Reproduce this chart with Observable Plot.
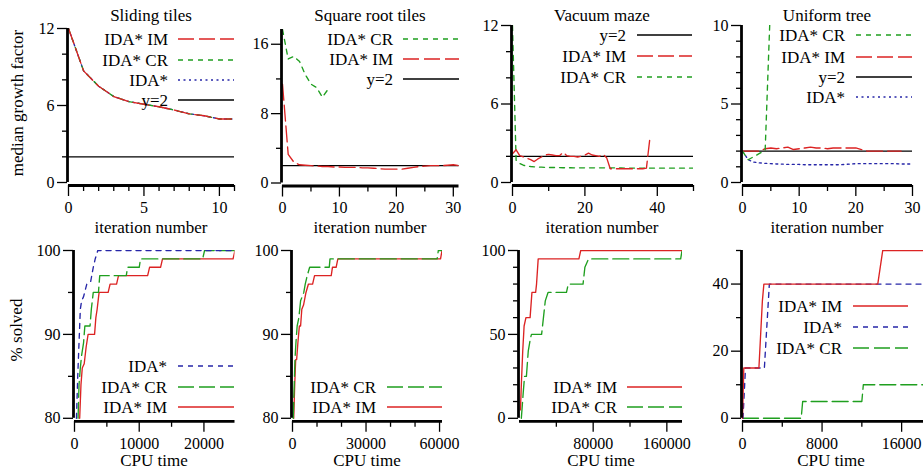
<!DOCTYPE html>
<html><head><meta charset="utf-8">
<script src="https://cdn.jsdelivr.net/npm/d3@7"></script>
<script src="https://cdn.jsdelivr.net/npm/@observablehq/plot@0.6"></script>
<style>
body{margin:0;background:#fff;overflow:hidden}
#c{position:relative;width:923px;height:470px;overflow:hidden;font-family:"Liberation Serif","Times New Roman",serif;color:#000}
.lab{position:absolute;transform:translate(-50%,-50%);white-space:nowrap;font-size:17px;line-height:1}
.rot{transform:translate(-50%,-50%) rotate(-90deg)}
#c svg{position:absolute}
</style></head><body><div id="c"></div>
<script>
// ---------------- DATA ----------------
// Top row: median growth factor per iteration number (x = iteration index)
const slidingIM  = [12, 8.7, 7.5, 6.7, 6.3, 6.1, 5.9, 5.65, 5.35, 5.2, 4.95, 4.95];
const slidingCR  = [12, 8.7, 7.5, 6.7, 6.3, 6.1, 5.9, 5.65, 5.35, 5.2, 4.95, 4.95];
const slidingIDA = [12, 8.7, 7.5, 6.7, 6.3, 6.1, 5.9, 5.65, 5.35, 5.2, 4.95, 4.95];

const sqrtCR = [17.7, 14.3, 14.6, 14.0, 12.5, 11.4, 11.0, 9.9, 10.8];
const sqrtIM = [11.4, 3.3, 2.4, 2.1, 2.05, 2.0, 1.95, 1.9, 1.9, 1.85, 1.85, 1.8, 1.8, 1.8, 1.75, 1.75,
                1.7, 1.65, 1.6, 1.6, 1.6, 1.6, 1.7, 1.8, 1.9, 1.95, 2.0, 2.0, 2.0, 2.05, 2.1, 2.0];

const vacuumIM = [2.2, 2.5, 2.05, 1.95, 1.85, 1.75, 1.6, 1.8, 1.95, 2.1, 2.15, 2.1, 2.05, 2.05, 2.3, 2.05,
                  2.0, 2.0, 1.95, 2.0, 2.1, 2.25, 2.1, 2.05, 2.0, 2.15, 1.9, 1.05, 1.05, 1.05, 1.05, 1.05,
                  1.05, 1.05, 1.05, 1.05, 1.05, 1.1, 3.5];
const vacuumCR = [12, 1.7, 1.45, 1.32, 1.26, 1.22, 1.2, 1.18, 1.17, 1.16, 1.15,
                  1.15, 1.14, 1.14, 1.13, 1.13, 1.13, 1.12, 1.12, 1.12, 1.12,
                  1.12, 1.12, 1.12, 1.12, 1.12, 1.12, 1.12, 1.12, 1.12, 1.12,
                  1.1, 1.1, 1.1, 1.1, 1.1, 1.1, 1.1, 1.1, 1.1, 1.1,
                  1.1, 1.1, 1.1, 1.1, 1.1, 1.1, 1.1, 1.1, 1.1, 1.1];

const uniformCR  = [2.0, 1.45, 1.65, 1.85, 2.05, 12];
const uniformIM  = [2.0, 2.0, 2.0, 2.0, 2.15, 2.2, 2.15, 2.2, 2.25, 2.1, 2.15, 2.2, 2.25, 2.2, 2.2,
                    2.15, 2.2, 2.2, 2.2, 2.2, 2.2, 2.1, 2.0, 2.0, 2.0, 2.0, 2.0, 2.0, 2.0];
const uniformIDA = [2.0, 1.45, 1.3, 1.25, 1.22, 1.2, 1.18, 1.17, 1.15, 1.15, 1.15, 1.13, 1.13, 1.13, 1.13,
                    1.13, 1.13, 1.13, 1.15, 1.17, 1.2, 1.2, 1.2, 1.2, 1.2, 1.2, 1.2, 1.2, 1.18, 1.18, 1.18];
const referenceGrowth = 2;   // the y=2 line

// Bottom row: % solved vs CPU time
const slidingTimeIDA = [300, 500, 900, 1100, 1400, 1900, 2500, 2900, 3200, 3600, 24800];
const slidingPctIDA  = [80, 85, 93, 94, 94.5, 96, 96.3, 98, 99, 100, 100];
const slidingTimeCR  = [550, 700, 900, 1100, 1400, 1600, 2400, 2600, 2900, 3700, 3900, 8000, 8200, 10000, 10200, 19800, 20100, 24800];
const slidingPctCR   = [80, 84, 86, 87.5, 89, 91, 91, 93, 95, 95, 97, 97, 98, 98, 99, 99, 100, 100];
const slidingTimeIM  = [800, 1000, 1200, 1500, 1800, 2100, 3100, 3300, 3500, 3800, 5200, 5500, 6500, 6800, 11300, 11600, 13300, 13600, 24500, 24800];
const slidingPctIM   = [80, 84, 86, 86.5, 88.5, 90, 90, 92, 93, 95, 95, 96, 96, 97, 97, 98, 98, 99, 99, 100];

const sqrtTimeCR = [300, 700, 1000, 1400, 1900, 2600, 3300, 4600, 5200, 6000, 7000, 15000, 15300, 59000, 59500, 61000];
const sqrtPctCR  = [80, 84, 87, 89, 91, 92, 94, 95, 96, 97, 98, 98, 99, 99, 100, 100];
const sqrtTimeIM = [500, 900, 1300, 1700, 2200, 2800, 3300, 3800, 4500, 5500, 6500, 8200, 9000, 15800, 16300, 17800, 18500, 60400, 61000];
const sqrtPctIM  = [80, 84, 87, 87, 89, 91, 91, 93, 93.5, 95, 96, 96, 97, 97, 98, 98, 99, 99, 100];

const vacuumTimeIM = [1000, 2000, 3500, 5000, 7000, 11500, 13500, 17500, 18500, 20300, 64500, 66500, 176500];
const vacuumPctIM  = [5, 20, 40, 55, 60, 60, 75, 75, 80, 95, 95, 100, 100];
const vacuumTimeCR = [2000, 4000, 5500, 7500, 9500, 12000, 13000, 24000, 26000, 28000, 31000, 51000, 53000, 69000, 71000, 75000, 175000, 176500];
const vacuumPctCR  = [0, 15, 25, 25, 40, 48, 50, 50, 60, 70, 75, 75, 80, 80, 90, 95, 95, 100];

const uniformTimeIM  = [0, 130, 1650, 2000, 2150, 13600, 14100, 18200];
const uniformPctIM   = [0, 15, 15, 35, 40, 40, 50, 50];
const uniformTimeIDA = [50, 300, 2200, 2700, 18200];
const uniformPctIDA  = [0, 15, 15, 40, 40];
const uniformTimeCR  = [0, 5900, 6050, 12000, 12150, 18200];
const uniformPctCR   = [0, 0, 5, 5, 10, 10];

// Titles / labels
const titles = ["Sliding tiles", "Square root tiles", "Vacuum maze", "Uniform tree"];
const seriesNames = {IM: "IDA* IM", CR: "IDA* CR", IDA: "IDA*", Y2: "y=2"};

// ---------------- STYLES ----------------
const FONT = "Liberation Serif, Times New Roman, serif";
const RED = "#dc2323", GREEN = "#1f9f1f", BLUE = "#2626a8";
const topStyle = {IM: {stroke: RED, dash: "16,5"}, CR: {stroke: GREEN, dash: "5,5"},
                  IDA: {stroke: BLUE, dash: "2,3.5"}, Y2: {stroke: "#000", dash: null}};
const botStyle = {IM: {stroke: RED, dash: null}, CR: {stroke: GREEN, dash: "16,5"},
                  IDA: {stroke: BLUE, dash: "5,5"}};

const idx = arr => arr.map((_, i) => i);

const panels = [
  {g: {x0: 68, x1: 234, yTop: 28, yBot: 182}, xDomain: [0, 11], yDomain: [0, 12],
   xMajor: [0, 5, 10], xMinor: [1, 2, 3, 4, 6, 7, 8, 9, 11], yMajor: [0, 6, 12], yMinor: [2, 4, 8, 10],
   style: topStyle, ref: [0, 11],
   series: [{k: "IDA", x: idx(slidingIDA), y: slidingIDA}, {k: "CR", x: idx(slidingCR), y: slidingCR}, {k: "IM", x: idx(slidingIM), y: slidingIM}],
   legend: {tx: 168, l1: 178, l2: 234, rows: [39, 60, 80, 100], keys: ["IM", "CR", "IDA", "Y2"]}},
  {g: {x0: 282, x1: 458.5, yTop: 28.5, yBot: 182}, xDomain: [0, 31], yDomain: [0, 17.7],
   xMajor: [0, 10, 20, 30], xMinor: [5, 15, 25], yMajor: [0, 8, 16], yMinor: [4, 12],
   style: topStyle, ref: [0, 31],
   series: [{k: "CR", x: idx(sqrtCR), y: sqrtCR}, {k: "IM", x: idx(sqrtIM), y: sqrtIM}],
   legend: {tx: 393, l1: 403, l2: 459, rows: [39, 59, 79], keys: ["CR", "IM", "Y2"]}},
  {g: {x0: 512, x1: 693, yTop: 25, yBot: 182}, xDomain: [0, 50], yDomain: [0, 12],
   xMajor: [0, 20, 40], xMinor: [10, 30, 50], yMajor: [0, 6, 12], yMinor: [2, 4, 8, 10],
   style: topStyle, ref: [0, 50],
   series: [{k: "CR", x: idx(vacuumCR), y: vacuumCR}, {k: "IM", x: idx(vacuumIM), y: vacuumIM}],
   legend: {tx: 626, l1: 637, l2: 692, rows: [35, 56, 77], keys: ["Y2", "IM", "CR"]}},
  {g: {x0: 742, x1: 912, yTop: 25, yBot: 182}, xDomain: [0, 30], yDomain: [0, 10],
   xMajor: [0, 10, 20, 30], xMinor: [5, 15, 25], yMajor: [0, 5, 10], yMinor: [1, 2, 3, 4, 6, 7, 8, 9],
   style: topStyle, ref: [0, 30],
   series: [{k: "IDA", x: idx(uniformIDA), y: uniformIDA}, {k: "IM", x: idx(uniformIM), y: uniformIM}, {k: "CR", x: idx(uniformCR), y: uniformCR}],
   legend: {tx: 845, l1: 856, l2: 912, rows: [35, 57, 77, 97], keys: ["CR", "IM", "Y2", "IDA"]}},
  {g: {x0: 74, x1: 234.5, yTop: 249.5, yBot: 417.3}, xDomain: [0, 24800], yDomain: [80, 100],
   xMajor: [0, 10000, 20000], xMinor: [5000, 15000], yMajor: [80, 90, 100], yMinor: [85, 95],
   style: botStyle,
   series: [{k: "IM", x: slidingTimeIM, y: slidingPctIM}, {k: "CR", x: slidingTimeCR, y: slidingPctCR}, {k: "IDA", x: slidingTimeIDA, y: slidingPctIDA}],
   legend: {tx: 167, l1: 178, l2: 234, rows: [366, 387, 407], keys: ["IDA", "CR", "IM"]}},
  {g: {x0: 292, x1: 442, yTop: 249.5, yBot: 417.3}, xDomain: [0, 61200], yDomain: [80, 100],
   xMajor: [0, 30000, 60000], xMinor: [10000, 20000, 40000, 50000], yMajor: [80, 90, 100], yMinor: [85, 95],
   style: botStyle,
   series: [{k: "IM", x: sqrtTimeIM, y: sqrtPctIM}, {k: "CR", x: sqrtTimeCR, y: sqrtPctCR}],
   legend: {tx: 376, l1: 387, l2: 442, rows: [387, 407], keys: ["CR", "IM"]}},
  {g: {x0: 519, x1: 682, yTop: 249.5, yBot: 417.3}, xDomain: [0, 177000], yDomain: [0, 100],
   xMajor: [80000, 160000], xMinor: [40000, 120000], yMajor: [0, 50, 100], yMinor: [10, 20, 30, 40, 60, 70, 80, 90],
   style: botStyle,
   series: [{k: "CR", x: vacuumTimeCR, y: vacuumPctCR}, {k: "IM", x: vacuumTimeIM, y: vacuumPctIM}],
   legend: {tx: 617, l1: 627, l2: 682, rows: [387, 407], keys: ["IM", "CR"]}},
  {g: {x0: 742, x1: 923, yTop: 249.5, yBot: 417.3}, xDomain: [0, 18200], yDomain: [0, 50],
   xMajor: [0, 8000, 16000], xMinor: [4000, 12000], yMajor: [0, 20, 40], yMinor: [10, 30, 50],
   style: botStyle,
   series: [{k: "CR", x: uniformTimeCR, y: uniformPctCR}, {k: "IDA", x: uniformTimeIDA, y: uniformPctIDA}, {k: "IM", x: uniformTimeIM, y: uniformPctIM}],
   legend: {tx: 842, l1: 853, l2: 908, rows: [306, 327, 348], keys: ["IM", "IDA", "CR"]}}
];

const container = document.getElementById("c");
const fmt = d => String(d);

function makePanel(p) {
  const mL = 50, mR = 6, mT = 6, mB = 40, inL = 1, inB = 3;
  const left = p.g.x0 - mL - inL;
  const top = p.g.yTop - mT;
  const W = p.g.x1 - left + mR;
  const H = p.g.yBot - top + inB + mB;
  const [xmin, xmax] = p.xDomain, [ymin, ymax] = p.yDomain;
  const marks = [];
  if (p.ref) marks.push(Plot.ruleY([referenceGrowth], {x1: p.ref[0], x2: p.ref[1], stroke: "#000", strokeWidth: 1.2}));
  for (const s of p.series) {
    const st = p.style[s.k];
    const data = s.y.map((v, i) => ({x: s.x[i], y: v}));
    marks.push(Plot.line(data, {x: "x", y: "y", stroke: st.stroke, strokeWidth: 1.35,
      strokeDasharray: st.dash || undefined, clip: true}));
  }
  marks.push(Plot.axisY(p.yMajor, {tickSize: 10, tickPadding: 3, strokeWidth: 1.3, label: null, tickFormat: fmt, fontSize: 16}));
  marks.push(Plot.axisY(p.yMinor, {tickSize: 5, strokeWidth: 1.3, label: null, tickFormat: () => ""}));
  marks.push(Plot.axisX(p.xMajor, {tickSize: 11, tickPadding: 5, strokeWidth: 1.3, label: null, tickFormat: fmt, fontSize: 16}));
  marks.push(Plot.axisX(p.xMinor, {tickSize: 6, strokeWidth: 1.3, label: null, tickFormat: () => ""}));
  marks.push(Plot.ruleX([xmin], {y1: ymin, y2: ymax, dx: -1, strokeWidth: 2.8, stroke: "#000"}));
  marks.push(Plot.ruleY([ymin], {x1: xmin, x2: xmax, dy: inB, strokeWidth: 2.8, stroke: "#000"}));
  const svg = Plot.plot({
    width: W, height: H, marginLeft: mL, marginRight: mR, marginTop: mT, marginBottom: mB,
    insetLeft: inL, insetBottom: inB,
    x: {domain: p.xDomain}, y: {domain: p.yDomain},
    style: {fontFamily: FONT, fontSize: "16px", color: "#000", background: "transparent", overflow: "visible"},
    marks
  });
  svg.style.left = left + "px";
  svg.style.top = top + "px";
  container.appendChild(svg);
}
panels.forEach(makePanel);

// Legends (overlay)
const overlay = d3.select(container).append("svg")
  .attr("width", 923).attr("height", 470).style("left", "0px").style("top", "0px")
  .style("font-family", FONT).style("font-size", "17px");
for (const p of panels) {
  const L = p.legend;
  L.keys.forEach((k, i) => {
    const st = p.style[k];
    overlay.append("text").attr("x", L.tx).attr("y", L.rows[i]).attr("text-anchor", "end")
      .attr("dominant-baseline", "central").attr("fill", "#000").text(seriesNames[k]);
    overlay.append("line").attr("x1", L.l1).attr("x2", L.l2).attr("y1", L.rows[i]).attr("y2", L.rows[i])
      .attr("stroke", st.stroke).attr("stroke-width", 1.35).attr("stroke-dasharray", st.dash || null);
  });
}

// Text labels
function label(text, x, y, rot) {
  const d = document.createElement("div");
  d.className = "lab" + (rot ? " rot" : "");
  d.style.left = x + "px"; d.style.top = y + "px";
  d.textContent = text;
  container.appendChild(d);
}
const topCenters = [151, 370, 602, 827];
const botCenters = [154, 367, 601, 831];
titles.forEach((t, i) => label(t, topCenters[i], 15));
topCenters.forEach(cx => label("iteration number", cx, 227));
botCenters.forEach(cx => label("CPU time", cx, 460));
label("median growth factor", 17, 103, true);
label("% solved", 16, 330, true);
</script>
</body></html>
